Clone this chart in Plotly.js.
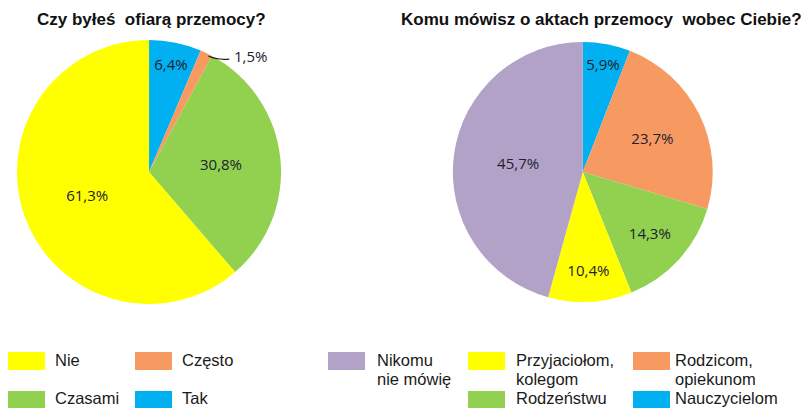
<!DOCTYPE html>
<html>
<head>
<meta charset="utf-8">
<script src="https://cdn.plot.ly/plotly-3.0.1.min.js"></script>
<style>
  html, body { margin: 0; padding: 0; background: #fff; }
  #chart { width: 810px; height: 408px; }
</style>
</head>
<body>
<div id="chart"></div>
<script>
// left pie: "Czy byłeś ofiarą przemocy?" (clockwise from 12 o'clock)
var victimLabels = ['Tak', 'Często', 'Czasami', 'Nie'];
var victimValues = [6.4, 1.5, 30.8, 61.3];
var victimColors = ['#00B0F0', '#F79A62', '#92D050', '#FFFF00'];

// right pie: "Komu mówisz o aktach przemocy wobec Ciebie?"
var tellLabels = ['Nauczycielom', 'Rodzicom, opiekunom', 'Rodzeństwu', 'Przyjaciołom, kolegom', 'Nikomu nie mówię'];
var tellValues = [5.9, 23.7, 14.3, 10.4, 45.7];
var tellColors = ['#00B0F0', '#F79A62', '#92D050', '#FFFF00', '#B3A2C8'];

// legend order as drawn under each pie (each entry = lines of text)
var victimLegend = [['Nie'], ['Często'], ['Czasami'], ['Tak']];
var tellLegend = [['Nikomu', 'nie mówię'], ['Przyjaciołom,', 'kolegom'], ['Rodzicom,', 'opiekunom'], ['Rodzeństwu'], ['Nauczycielom']];

function pct(v) {
  return v.toFixed(1).replace('.', ',') + '%';
}

var labelFont = { family: 'Open Sans, sans-serif', size: 15, color: '#1c2230' };

var victimText = victimValues.map(function (v, i) {
  return i === 1 ? '' : pct(v);   // the tiny slice gets an outside label below
});

var traces = [{
  type: 'pie',
  labels: victimLabels,
  values: victimValues,
  sort: false,
  direction: 'clockwise',
  rotation: 0,
  marker: { colors: victimColors },
  text: victimText,
  textinfo: 'text',
  textposition: 'inside',
  insidetextorientation: 'horizontal',
  textfont: labelFont,
  showlegend: false,
  hoverinfo: 'label+percent',
  domain: { x: [0.018, 0.350], y: [0.255, 0.902] }
}, {
  type: 'pie',
  labels: tellLabels,
  values: tellValues,
  sort: false,
  direction: 'clockwise',
  rotation: 0,
  marker: { colors: tellColors },
  text: tellValues.map(pct),
  textinfo: 'text',
  textposition: 'inside',
  insidetextorientation: 'horizontal',
  textfont: labelFont,
  showlegend: false,
  hoverinfo: 'label+percent',
  domain: { x: [0.557, 0.882], y: [0.26, 0.897] }
}];

var W = 810, H = 408;
var annotations = [];
var shapes = [];

// titles
var titleFont = { family: 'Liberation Sans, Arial, sans-serif', size: 17, color: '#111' };
annotations.push({
  text: '<b>Czy byłeś  ofiarą przemocy?</b>', xref: 'paper', yref: 'paper',
  x: 151 / W, y: 1 - 19 / H, xanchor: 'center', yanchor: 'middle', showarrow: false,
  font: titleFont
});
annotations.push({
  text: '<b>Komu mówisz o aktach przemocy  wobec Ciebie?</b>', xref: 'paper', yref: 'paper',
  x: 601 / W, y: 1 - 19 / H, xanchor: 'center', yanchor: 'middle', showarrow: false,
  font: titleFont
});

// outside label for the small "Często" slice, placed from the slice's mid angle
(function () {
  var total = victimValues.reduce(function (a, b) { return a + b; }, 0);
  var mid = (victimValues[0] + victimValues[1] / 2) / total * 2 * Math.PI;
  var dom = traces[0].domain;
  var cx = (dom.x[0] + dom.x[1]) / 2 * W;
  var cy = (1 - (dom.y[0] + dom.y[1]) / 2) * H;
  var r = (dom.y[1] - dom.y[0]) * H / 2;
  var ex = cx + r * Math.sin(mid), ey = cy - r * Math.cos(mid);
  function px(x, y) { return (x / W) + ',' + (1 - y / H); }
  shapes.push({
    type: 'path', xref: 'paper', yref: 'paper', line: { color: '#222', width: 1.2 },
    path: 'M' + px(ex + 2, ey + 3) + ' Q' + px(ex + 10, ey + 7) + ' ' + px(ex + 23, ey + 6)
  });
  annotations.push({
    text: pct(victimValues[1]), xref: 'paper', yref: 'paper',
    x: (ex + 26) / W, y: 1 - (ey + 3) / H, xanchor: 'left', yanchor: 'middle',
    showarrow: false, font: labelFont
  });
})();

// hand-built legends (two grids under the pies)
var legendFont = { family: 'Liberation Sans, Arial, sans-serif', size: 16.5, color: '#1a1a1a' };
function legendItem(lines, color, sx, sy, tx) {
  shapes.push({
    type: 'rect', xref: 'paper', yref: 'paper', line: { width: 0 }, fillcolor: color,
    x0: sx / W, x1: (sx + 37) / W, y0: 1 - (sy + 18) / H, y1: 1 - sy / H
  });
  var top = sy > 380 ? sy + 7 : sy + 8;   // bottom row sits against the page edge
  lines.forEach(function (ln, k) {
    annotations.push({
      text: ln, xref: 'paper', yref: 'paper', x: tx / W, y: 1 - (top + 19 * k) / H,
      xanchor: 'left', yanchor: 'middle', align: 'left', showarrow: false,
      borderpad: 0, font: legendFont
    });
  });
}
var victimLegendColors = ['#FFFF00', '#F79A62', '#92D050', '#00B0F0'];
var leftSlots = [[8, 352, 54], [135, 352, 181], [8, 391, 54], [135, 391, 181]];
victimLegend.forEach(function (lab, i) {
  var s = leftSlots[i];
  legendItem(lab, victimLegendColors[i], s[0], s[1], s[2]);
});
var tellLegendColors = ['#B3A2C8', '#FFFF00', '#F79A62', '#92D050', '#00B0F0'];
var rightSlots = [[328, 352, 376], [468, 352, 515], [633, 352, 674], [468, 391, 515], [633, 391, 674]];
tellLegend.forEach(function (lab, i) {
  var s = rightSlots[i];
  legendItem(lab, tellLegendColors[i], s[0], s[1], s[2]);
});

var layout = {
  width: W, height: H,
  margin: { l: 0, r: 0, t: 0, b: 0 },
  paper_bgcolor: '#fff',
  showlegend: false,
  annotations: annotations,
  shapes: shapes
};

Plotly.newPlot('chart', traces, layout, { displayModeBar: false, staticPlot: true });
</script>
</body>
</html>
